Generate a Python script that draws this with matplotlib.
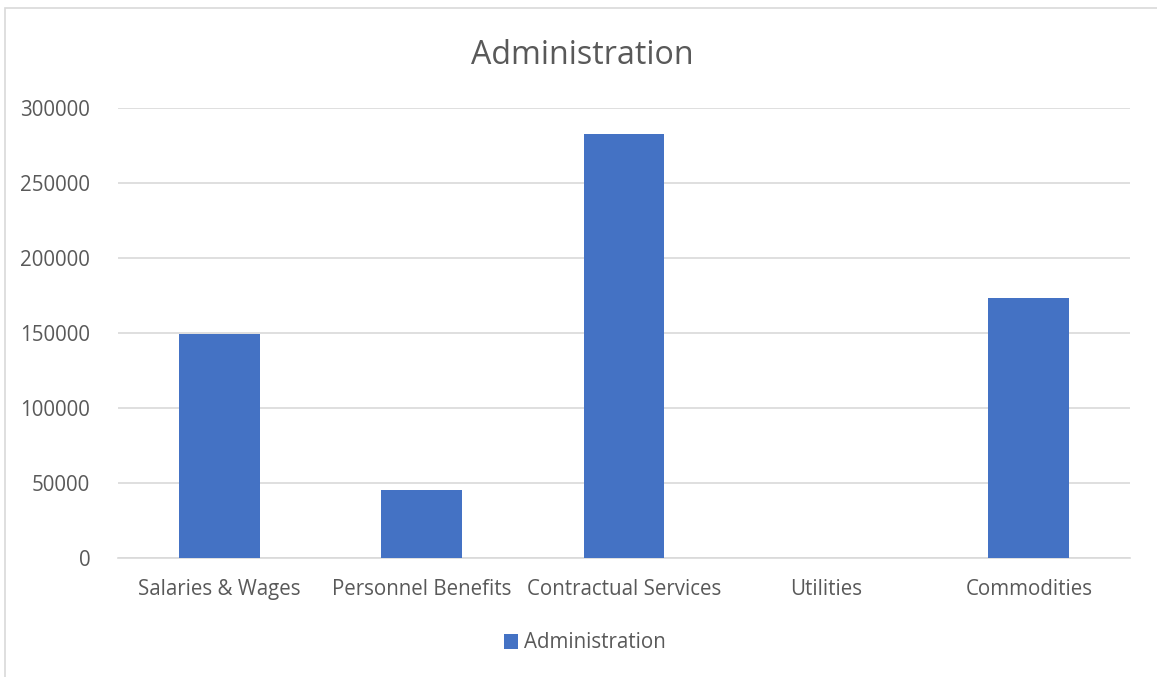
import matplotlib.pyplot as plt
from matplotlib.patches import Rectangle

categories = ['Salaries & Wages', 'Personnel Benefits', 'Contractual Services',
              'Utilities', 'Commodities']
values = [149300, 45300, 282700, 0, 173500]
yticks = [0, 50000, 100000, 150000, 200000, 250000, 300000]

plt.rcParams['font.family'] = ['Open Sans', 'DejaVu Sans']
text_color = '#595959'
bar_color = '#4472C4'

fig = plt.figure(figsize=(11.57, 6.77), dpi=100)
fig.patches.append(Rectangle((5 / 1157, -0.01), 1.0, 1 - 8 / 677 + 0.01,
                             transform=fig.transFigure, fill=False,
                             edgecolor='#d9d9d9', linewidth=1.2))

ax = fig.add_axes([118 / 1157, 1 - 558 / 677, (1130 - 118) / 1157, (558 - 108) / 677])
ax.bar(range(len(categories)), values, width=0.4, color=bar_color,
       label='Administration', zorder=3)
ax.set_xlim(-0.5, len(categories) - 0.5)
ax.set_ylim(0, 300000)
ax.set_yticks(yticks)
ax.set_yticklabels([str(v) for v in yticks])
ax.set_xticks(range(len(categories)))
ax.set_xticklabels(categories)
ax.tick_params(axis='both', length=0, labelsize=14.8, colors=text_color)
ax.tick_params(axis='y', pad=20)
ax.tick_params(axis='x', pad=15)
ax.grid(axis='y', color='#d9d9d9', linewidth=1.2, zorder=0)
for side in ['top', 'right', 'left']:
    ax.spines[side].set_visible(False)
ax.spines['bottom'].set_color('#d9d9d9')
ax.spines['bottom'].set_linewidth(1.2)

fig.text(582 / 1157, 1 - 55 / 677, 'Administration', ha='center', va='center',
         fontsize=23.2, color=text_color)
fig.legend(loc='center', bbox_to_anchor=(585 / 1157, 1 - 643 / 677), frameon=False,
           fontsize=14.8, labelcolor=text_color, handlelength=0.7, handleheight=0.7,
           handletextpad=0.3)

fig.savefig('out.png', dpi=100)
